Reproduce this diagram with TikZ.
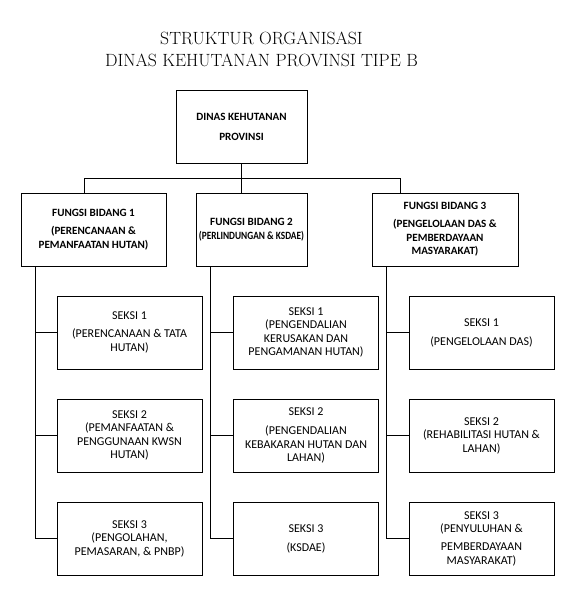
\documentclass[tikz,border=0pt]{standalone}
\usepackage{graphicx}
\usepackage{fontspec}
\newfontfamily\calfont{Carlito}
\usetikzlibrary{positioning,calc}

\tikzset{
  unit/.style={draw, line width=1pt, align=center, inner sep=0pt,
    minimum height=73pt, font=\calfont\fontsize{12}{13.5}\selectfont},
  head/.style={unit, font=\calfont\bfseries\fontsize{11.1}{13.5}\selectfont},
  seksi/.style={unit, minimum width=145pt},
  link/.style={line width=1pt}
}

\begin{document}
\begin{tikzpicture}[x=1pt,y=-1pt]
  \fill[white] (0,0) rectangle (582,598);
  \useasboundingbox (0,0) rectangle (582,598);
  %%
  % Title
  \node (title1) at (261.5,38) {\fontsize{17.7}{21}\selectfont STRUKTUR ORGANISASI};
  \node (title2) at (261.5,60) {\fontsize{17.7}{21}\selectfont DINAS KEHUTANAN PROVINSI TIPE B};
  % Node: top
  \node[head, minimum width=131pt] (top) at (241.5,126.5) {DINAS KEHUTANAN\\[6.5pt] PROVINSI};
  % Node: fungsi bidang
  \node[head, minimum width=145pt] (fb1) at (93.5,229.5)
    {FUNGSI BIDANG 1\\[5pt] (PERENCANAAN \&\\ PEMANFAATAN HUTAN)};
  \node[head, minimum width=111pt] (fb2) at (251.5,229.5)
    {FUNGSI BIDANG 2\\ \resizebox{105pt}{\height}{(PERLINDUNGAN \& KSDAE)}};
  \node[head, minimum width=146pt] (fb3) at (445,229.5)
    {FUNGSI BIDANG 3\\[4.5pt] (PENGELOLAAN DAS \&\\ PEMBERDAYAAN\\ MASYARAKAT)};
  % Node: seksi, bidang 1
  \node[seksi] (s11) at (129.5,332.5) {SEKSI 1\\[4.5pt] (PERENCANAAN \& TATA\\ HUTAN)};
  \node[seksi] (s12) at (129.5,435.5) {SEKSI 2\\ (PEMANFAATAN \&\\ PENGGUNAAN KWSN\\ HUTAN)};
  \node[seksi] (s13) at (129.5,538.5) {SEKSI 3\\ (PENGOLAHAN,\\ PEMASARAN, \& PNBP)};
  % Node: seksi, bidang 2
  \node[seksi] (s21) at (306,332.5) {SEKSI 1\\ (PENGENDALIAN\\ KERUSAKAN DAN\\ PENGAMANAN HUTAN)};
  \node[seksi] (s22) at (306,435.5) {SEKSI 2\\[5.5pt] (PENGENDALIAN\\ KEBAKARAN HUTAN DAN\\ LAHAN)};
  \node[seksi] (s23) at (306,538.5) {SEKSI 3\\[5.5pt] (KSDAE)};
  % Node: seksi, bidang 3
  \node[seksi] (s31) at (481.5,332.5) {SEKSI 1\\[5.5pt] (PENGELOLAAN DAS)};
  \node[seksi] (s32) at (481.5,435.5) {SEKSI 2\\ (REHABILITASI HUTAN \&\\ LAHAN)};
  \node[seksi] (s33) at (481.5,538.5) {SEKSI 3\\ (PENYULUHAN \&\\[4.5pt] PEMBERDAYAAN\\ MASYARAKAT)};
  %%
  % Edge: top -> fungsi bidang
  \coordinate (bus) at (242,178);
  \coordinate (d1) at (84,193);
  \coordinate (d3) at (400,193);
  \draw[link] (top.south) -- (top.south |- fb2.north);
  \draw[link] (d1) -- (d1 |- bus) -| (d3);
  % Edge: fungsi bidang -> seksi
  \foreach \b in {1,2,3}{
    \coordinate (sp\b) at ([xshift=14.5pt]fb\b.south west);
    \draw[link] (sp\b) |- (s\b3.west);
    \draw[link] (sp\b |- s\b1.west) -- (s\b1.west);
    \draw[link] (sp\b |- s\b2.west) -- (s\b2.west);
  }
  %
\end{tikzpicture}
\end{document}
